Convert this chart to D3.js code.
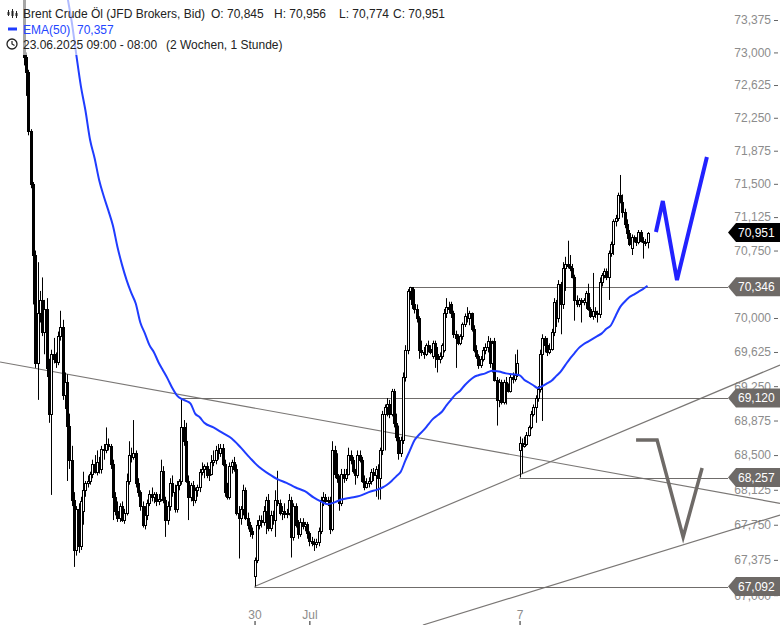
<!DOCTYPE html>
<html><head><meta charset="utf-8">
<script src="https://cdn.jsdelivr.net/npm/d3@7"></script>
<style>
body{margin:0;background:#fff}
svg{display:block}
text{font-family:"Liberation Sans",Arial,sans-serif}
</style>
</head><body>
<svg id="chart" width="780" height="625"></svg>
<script>
// ---------- data (Brent Crude Öl, 1h candles) ----------
const firstIndex = 1;
const open = [
73.75,72.95,72.78,72.10,71.50,70.70,69.50,70.05,70.20,69.85,
70.10,69.45,68.95,69.60,69.55,69.52,69.80,69.90,69.15,69.30,
68.82,68.45,68.02,67.48,67.92,67.52,67.90,68.12,68.20,68.22,
68.30,68.40,68.32,68.42,68.35,68.57,68.55,68.62,68.60,68.40,
68.05,67.90,67.82,67.95,67.80,67.88,68.22,68.50,68.48,68.52,
68.20,68.10,67.95,67.75,67.85,67.98,68.08,68.05,68.08,68.00,
68.03,68.33,68.02,67.80,67.95,68.20,68.10,67.92,68.18,68.22,
68.80,68.65,68.22,68.05,68.18,68.02,68.12,68.15,68.32,68.35,
68.38,68.28,68.30,68.42,68.45,68.55,68.52,68.58,68.40,68.10,
68.05,68.38,68.42,68.35,67.88,67.82,67.92,68.12,67.82,67.75,
67.68,67.20,67.37,67.75,67.80,67.78,67.90,68.02,67.72,67.85,
67.80,68.02,67.98,67.88,67.90,67.86,67.88,68.02,67.62,67.95,
67.75,67.65,67.78,67.74,67.76,67.66,67.58,67.55,67.54,67.57,
67.68,68.02,68.05,68.00,68.02,67.70,68.55,68.30,68.25,67.98,
68.30,68.25,68.30,68.50,68.45,68.33,68.28,68.50,68.45,68.22,
68.16,68.20,68.22,68.32,68.28,68.35,68.25,68.55,68.95,69.02,
69.05,68.95,69.20,68.85,68.70,68.52,68.66,69.35,69.65,70.30,
70.34,70.15,70.10,70.00,69.65,69.62,69.60,69.70,69.66,69.58,
69.72,69.60,69.55,69.58,69.65,70.05,70.12,70.15,70.05,69.82,
69.80,69.72,69.80,69.93,70.02,70.00,70.05,69.88,69.65,69.58,
69.48,69.55,69.65,69.68,69.75,69.50,69.75,69.32,69.10,69.30,
69.08,69.30,69.25,69.20,69.35,69.33,69.37,68.55,68.63,68.60,
68.62,68.72,68.80,68.95,69.02,69.12,69.22,69.60,69.78,69.70,
69.62,69.66,69.85,70.18,70.00,70.38,70.15,70.55,70.60,70.58,
70.55,70.46,70.20,70.16,70.20,70.18,70.18,70.28,70.10,70.02,
70.08,70.05,70.04,70.40,70.48,70.52,70.46,70.72,70.82,71.08,
71.12,71.37,71.30,71.18,71.05,70.95,70.78,70.90,70.86,70.84,
70.96,70.86,70.84,70.845];
const high = [
73.85,73.00,72.80,72.12,71.52,70.75,70.62,70.30,70.45,70.20,
70.22,69.55,69.65,69.78,69.62,69.85,70.08,69.98,69.40,69.38,
68.95,68.60,68.10,67.95,67.98,68.05,68.32,68.22,68.28,68.32,
68.45,68.50,68.55,68.48,68.60,68.62,68.80,68.68,68.62,68.45,
68.10,68.00,67.98,68.00,67.92,68.30,68.65,68.58,68.88,68.55,
68.25,68.12,68.00,67.95,68.02,68.12,68.15,68.10,68.10,68.08,
68.45,68.38,68.05,68.00,68.25,68.28,68.18,68.22,68.24,69.12,
68.88,68.85,68.28,68.20,68.22,68.15,68.18,68.35,68.42,68.40,
68.42,68.35,68.50,68.55,68.60,68.62,68.62,68.62,68.45,68.20,
68.42,68.45,68.48,68.40,67.95,67.95,68.18,68.15,67.88,67.78,
67.72,67.40,67.80,67.85,67.85,67.95,68.05,68.08,67.90,67.90,
68.12,68.33,68.02,67.95,67.98,67.92,68.08,68.05,67.98,67.98,
67.80,67.82,67.82,67.78,67.78,67.68,67.62,67.60,67.60,67.72,
68.05,68.10,68.08,68.05,68.05,68.65,68.60,68.52,68.28,68.35,
68.35,68.35,68.58,68.55,68.48,68.35,68.55,68.55,68.48,68.28,
68.25,68.26,68.35,68.36,68.38,68.40,68.58,68.98,69.05,69.12,
69.10,69.22,69.22,68.95,68.82,68.70,69.40,69.70,70.32,70.346,
70.34,70.32,70.15,70.02,69.75,69.68,69.72,69.75,69.70,69.75,
69.75,69.68,69.62,69.72,70.10,70.22,70.18,70.18,70.08,69.86,
69.82,69.82,69.95,70.05,70.12,70.08,70.06,69.92,69.70,69.60,
69.58,69.68,69.72,69.80,69.78,69.75,69.78,69.35,69.33,69.32,
69.32,69.35,69.28,69.38,69.40,69.60,69.65,68.70,68.68,68.70,
68.75,68.82,68.98,69.05,69.15,69.25,69.65,69.82,69.80,69.78,
69.72,69.88,70.22,70.20,70.42,70.40,70.62,70.68,70.86,70.70,
70.60,70.48,70.25,70.22,70.22,70.22,70.30,70.38,70.12,70.50,
70.12,70.08,70.45,70.50,70.55,70.55,70.75,70.85,71.10,71.15,
71.40,71.60,71.38,71.22,71.10,70.98,70.93,70.92,70.90,70.98,
70.98,70.90,70.88,70.956];
const low = [
72.85,72.50,72.05,71.45,70.15,69.45,69.10,69.95,69.80,69.60,
69.35,68.85,68.07,69.50,69.45,69.48,69.75,69.10,69.00,68.22,
68.35,67.95,67.30,67.42,67.45,67.48,67.75,68.05,68.15,68.18,
68.25,68.30,68.28,68.30,68.30,68.45,68.52,68.55,68.35,67.80,
67.85,67.78,67.78,67.78,67.76,67.85,68.18,68.42,68.45,68.15,
68.05,67.90,67.72,67.70,67.80,67.95,68.00,67.98,67.95,67.96,
68.00,67.98,67.62,67.75,67.90,68.05,67.88,67.88,68.12,68.18,
68.60,68.20,67.80,68.00,67.95,67.98,68.05,68.10,68.28,68.25,
68.25,68.22,68.28,68.38,68.40,68.45,68.48,68.38,68.05,68.02,
68.02,68.30,68.32,67.85,67.39,67.75,67.85,67.80,67.70,67.62,
67.60,67.092,67.34,67.70,67.72,67.74,67.65,67.68,67.68,67.75,
67.62,67.95,67.85,67.80,67.82,67.82,67.85,67.40,67.58,67.72,
67.60,67.62,67.70,67.68,67.60,67.52,67.52,67.47,67.50,67.52,
67.65,67.95,67.98,67.95,67.65,67.68,68.25,68.20,67.90,67.95,
68.20,68.22,68.28,68.40,68.30,68.18,68.25,68.42,68.20,68.12,
68.14,68.15,68.18,68.22,68.05,68.02,68.02,68.50,68.55,68.92,
68.90,68.92,68.80,68.65,68.45,68.48,68.62,69.30,69.60,70.20,
70.10,70.05,69.95,69.55,69.58,69.55,69.58,69.62,69.60,69.55,
69.45,69.40,69.50,69.55,69.62,70.00,70.05,70.00,69.78,69.45,
69.70,69.70,69.76,69.90,69.95,69.92,69.85,69.62,69.55,69.44,
69.45,69.52,69.60,69.62,69.45,69.40,69.30,68.82,69.02,69.05,
69.05,69.05,69.18,69.18,69.28,69.30,69.35,68.257,68.30,68.58,
68.60,68.70,68.78,68.92,68.85,69.08,69.18,68.87,69.62,69.58,
69.60,69.64,69.80,69.90,69.95,69.82,70.10,70.30,70.55,70.52,
70.44,69.97,70.12,70.12,69.95,70.14,70.10,70.08,70.00,69.98,
70.00,69.95,70.00,70.35,70.44,70.42,70.20,70.68,70.70,71.02,
71.08,71.28,71.12,71.00,70.88,70.80,70.70,70.84,70.80,70.82,
70.84,70.66,70.80,70.774];
const close = [
72.95,72.78,72.10,71.50,70.70,69.50,70.05,70.20,69.85,70.10,
69.45,68.95,69.60,69.55,69.52,69.80,69.90,69.15,69.30,68.82,
68.45,68.02,67.48,67.92,67.52,68.00,68.12,68.20,68.22,68.30,
68.40,68.32,68.42,68.35,68.57,68.55,68.62,68.60,68.40,68.05,
67.90,67.82,67.95,67.80,67.88,68.22,68.50,68.48,68.52,68.20,
68.10,67.95,67.75,67.85,67.98,68.08,68.05,68.08,68.00,68.03,
68.33,68.02,67.80,67.95,68.20,68.10,67.92,68.18,68.22,68.80,
68.65,68.22,68.05,68.18,68.02,68.12,68.15,68.32,68.35,68.38,
68.28,68.30,68.42,68.45,68.55,68.52,68.58,68.40,68.10,68.05,
68.38,68.42,68.35,67.88,67.82,67.92,68.12,67.82,67.75,67.68,
67.65,67.37,67.75,67.80,67.78,67.90,68.02,67.72,67.85,67.80,
68.02,67.98,67.88,67.90,67.86,67.88,68.02,67.62,67.95,67.75,
67.65,67.78,67.74,67.76,67.66,67.58,67.55,67.54,67.57,67.68,
68.02,68.05,68.00,68.02,67.70,68.55,68.30,68.25,67.98,68.30,
68.25,68.30,68.50,68.45,68.33,68.28,68.50,68.45,68.22,68.16,
68.20,68.22,68.32,68.28,68.35,68.25,68.55,68.95,69.02,69.05,
68.95,69.20,68.85,68.70,68.52,68.66,69.35,69.65,70.30,70.34,
70.15,70.10,70.00,69.65,69.62,69.60,69.70,69.66,69.63,69.72,
69.60,69.55,69.58,69.70,70.05,70.12,70.10,70.05,69.82,69.78,
69.72,69.80,69.93,70.02,70.00,70.05,69.88,69.65,69.58,69.48,
69.55,69.65,69.68,69.75,69.50,69.72,69.32,69.10,69.30,69.08,
69.30,69.25,69.20,69.35,69.33,69.37,69.50,68.63,68.60,68.62,
68.72,68.80,68.95,69.02,69.12,69.22,69.60,69.78,69.70,69.62,
69.66,69.85,70.18,70.00,70.38,70.15,70.55,70.60,70.58,70.55,
70.46,70.20,70.16,70.20,70.18,70.20,70.28,70.10,70.02,70.08,
70.05,70.04,70.40,70.48,70.52,70.46,70.72,70.82,71.08,71.12,
71.37,71.30,71.18,71.05,70.95,70.82,70.90,70.86,70.84,70.96,
70.86,70.84,70.85,70.951];

// EMA(50) at candle indices
const emaIdx = [18,20,22,24,26,28,30,32,34,36,38,40,42,44,46,48,50,52,54,56,58,60,62,64,66,68,70,72,74,76,78,80,
 84,88,92,96,100,104,108,112,116,120,124,128,131,134,137,140,144,148,152,156,
 158,160,162,164,166,168,170,172,174,176,178,180,182,184,186,188,190,192,194,196,198,200,
 203,206,209,212,215,218,
 220,222,224,226,228,230,232,234,236,238,240,242,244,246,248,250,252,254,256,258,260,262,264,266,268,270,272,274];
const emaVal = [74.00,73.66,73.35,72.97,72.61,72.33,72.00,71.79,71.54,71.36,71.20,71.03,70.79,70.59,70.42,70.28,70.16,69.95,69.83,69.70,69.62,69.51,69.42,69.33,69.23,69.15,69.11,69.09,69.06,68.95,68.91,68.85,
 68.80,68.74,68.68,68.58,68.47,68.37,68.30,68.24,68.20,68.15,68.11,68.04,68.00,67.97,67.99,68.02,68.04,68.06,68.10,68.13,
 68.15,68.18,68.22,68.27,68.32,68.44,68.55,68.66,68.72,68.77,68.83,68.89,68.93,68.97,69.04,69.10,69.16,69.20,69.26,69.31,69.35,69.37,
 69.39,69.42,69.41,69.39,69.38,69.37,
 69.32,69.29,69.26,69.23,69.25,69.28,69.31,69.36,69.41,69.48,69.55,69.61,69.67,69.71,69.74,69.77,69.80,69.83,69.88,69.92,70.02,70.12,70.18,70.23,70.26,70.29,70.32,70.357];

// price axis ticks (70,375 is fully hidden behind the 70,346 marker) and date ticks
const priceTicks = [67.000,67.375,67.750,68.125,68.500,68.875,69.250,69.625,70.000,70.750,71.125,71.500,71.875,72.250,72.625,73.000,73.375];
const dateTickIdx = [102, 126, 218];
const dateTickLabels = ["30", "Jul", "7"];

// drawings: horizontal levels [startIndex, price]
const levelStart = [170, 70, 218, 102];
const levelPrice = [70.346, 69.120, 68.257, 67.092];
// trend lines [[index, price],[index, price]]
const trendDown = [[-9.42, 69.515], [332, 67.98]];
const trendUp = [[102, 67.092], [332, 69.482]];
const trendUpLow = [[175.7, 66.685], [332, 67.854]];
// hand-drawn scenarios
const scenarioBlue = [[277.7, 70.958], [280.7, 71.306], [286.9, 70.42], [300.0, 71.804]];
const scenarioGray = [[269.0, 68.663], [278.2, 68.663], [289.6, 67.619], [297.9, 68.36]];
// price markers on the axis
const markerPrice = [70.951, 70.346, 69.120, 68.257, 67.092];
const markerIsLast = [true, false, false, false, false];

// ---------- chart ----------
const svg = d3.select("#chart");
const W = 780, H = 625, plotRight = 728;
const x = d3.scaleLinear().domain([1, 274]).range([23.8, 647.5]);
const y = d3.scaleLog().domain([67.092, 73.375]).range([586.5, 20]);
const fmt = v => d3.format(".3f")(v).replace(".", ",");
const gray = "#6e6a67";
const blue = "#1f3cff";

// price axis
const yAxis = svg.append("g").attr("transform", `translate(778,0)`)
  .call(d3.axisLeft(y).tickValues(priceTicks).tickFormat(fmt).tickSize(4).tickPadding(3));
yAxis.select(".domain").remove();
yAxis.selectAll("line").attr("stroke", "#666");
yAxis.selectAll("text").attr("fill", "#8c8c8c").style("font-size", "12px")
  .style("font-family", '"Liberation Sans",Arial,sans-serif');

// date axis
const xAxis = svg.append("g").attr("transform", `translate(0,${H})`)
  .call(d3.axisTop(x).tickValues(dateTickIdx).tickFormat((d, i) => dateTickLabels[i]).tickSize(4).tickPadding(2));
xAxis.select(".domain").remove();
xAxis.selectAll("line").attr("stroke", "#222");
xAxis.selectAll("text").attr("fill", "#8c8c8c").style("font-size", "12px")
  .style("font-family", '"Liberation Sans",Arial,sans-serif');

// trend lines
const lineGen = d3.line().x(d => x(d[0])).y(d => y(d[1]));
[trendDown, trendUp, trendUpLow].forEach(t => {
  svg.append("path").attr("d", lineGen(t)).attr("fill", "none")
    .attr("stroke", "#7a7775").attr("stroke-width", 1.2);
});

// horizontal levels
levelPrice.forEach((p, k) => {
  const yy = Math.round(y(p)) + 0.5;
  svg.append("line").attr("x1", x(levelStart[k])).attr("x2", plotRight)
    .attr("y1", yy).attr("y2", yy).attr("stroke", "#6f6c6a").attr("stroke-width", 1);
});

// candles
const n = Math.min(open.length, high.length, low.length, close.length);
const candles = d3.range(n).map(k => ({
  i: k + firstIndex, o: open[k], c: close[k],
  h: Math.max(high[k], open[k], close[k]), l: Math.min(low[k], open[k], close[k])
}));
const cg = svg.append("g");
candles.forEach(d => {
  const px = Math.round(x(d.i));
  cg.append("line").attr("x1", px + 0.5).attr("x2", px + 0.5)
    .attr("y1", y(d.h)).attr("y2", y(d.l)).attr("stroke", "#000").attr("stroke-width", 1);
  const yt = Math.round(y(Math.max(d.o, d.c))) + 0.5;
  let yb = Math.round(y(Math.min(d.o, d.c))) + 0.5;
  if (yb - yt < 1) yb = yt + 1;
  cg.append("rect").attr("x", px - 0.5).attr("width", 2)
    .attr("y", yt).attr("height", yb - yt)
    .attr("fill", d.c >= d.o ? "#fff" : "#000").attr("stroke", "#000").attr("stroke-width", 1);
});

// EMA
const emaPts = emaIdx.map((d, k) => [d, emaVal[k]]);
svg.append("path").attr("d", d3.line().x(d => x(d[0])).y(d => y(d[1])).curve(d3.curveMonotoneX)(emaPts))
  .attr("fill", "none").attr("stroke", blue).attr("stroke-width", 2);

// scenarios
svg.append("path").attr("d", lineGen(scenarioBlue)).attr("fill", "none")
  .attr("stroke", "#2222ff").attr("stroke-width", 4).attr("stroke-linejoin", "miter");
svg.append("path").attr("d", lineGen(scenarioGray)).attr("fill", "none")
  .attr("stroke", gray).attr("stroke-width", 3.5).attr("stroke-linejoin", "miter");

// price markers
markerPrice.forEach((p, k) => {
  const yy = y(p);
  const g = svg.append("g");
  g.append("path").attr("d", `M${plotRight},${yy} L736,${yy - 9.5} L780,${yy - 9.5} L780,${yy + 9.5} L736,${yy + 9.5} Z`)
    .attr("fill", markerIsLast[k] ? "#000" : gray);
  g.append("text").attr("x", 738).attr("y", yy + 4.3).attr("fill", "#fff")
    .style("font-size", "12px").text(fmt(p));
});

// legend
svg.append("rect").attr("x", 0).attr("y", 0).attr("width", 442).attr("height", 55)
  .attr("fill", "#fff").attr("opacity", 0.65);
const lg = svg.append("g").style("font-size", "12px");
// candle icon
[[8, 10, 16, 12, 15], [12, 9, 18, 11, 16], [16, 11, 18, 13, 16]].forEach(c => {
  lg.append("line").attr("x1", c[0] + 0.5).attr("x2", c[0] + 0.5).attr("y1", c[1]).attr("y2", c[2]).attr("stroke", "#222");
  lg.append("rect").attr("x", c[0] - 0.5).attr("y", c[3]).attr("width", 2).attr("height", c[4] - c[3]).attr("fill", "#222");
});
const t1 = [["Brent Crude Öl (JFD Brokers, Bid)", 23], ["O: 70,845", 211], ["H: 70,956", 274], ["L: 70,774", 339], ["C: 70,951", 393]];
t1.forEach(t => lg.append("text").attr("x", t[1]).attr("y", 18).attr("fill", "#222").text(t[0]));
lg.append("line").attr("x1", 8).attr("x2", 17).attr("y1", 29).attr("y2", 29).attr("stroke", blue).attr("stroke-width", 3);
lg.append("text").attr("x", 23).attr("y", 33.5).attr("fill", "#2446ff").text("EMA(50)");
lg.append("text").attr("x", 77).attr("y", 33.5).attr("fill", "#2446ff").text("70,357");
lg.append("circle").attr("cx", 12).attr("cy", 44).attr("r", 5).attr("fill", "none").attr("stroke", "#222").attr("stroke-width", 1.3);
lg.append("path").attr("d", "M12,41 L12,44 L14.5,45.5").attr("fill", "none").attr("stroke", "#222").attr("stroke-width", 1.2);
lg.append("text").attr("x", 23).attr("y", 49).attr("fill", "#222").text("23.06.2025 09:00 - 08:00");
lg.append("text").attr("x", 166).attr("y", 49).attr("fill", "#222").text("(2 Wochen, 1 Stunde)");
</script>
</body></html>
